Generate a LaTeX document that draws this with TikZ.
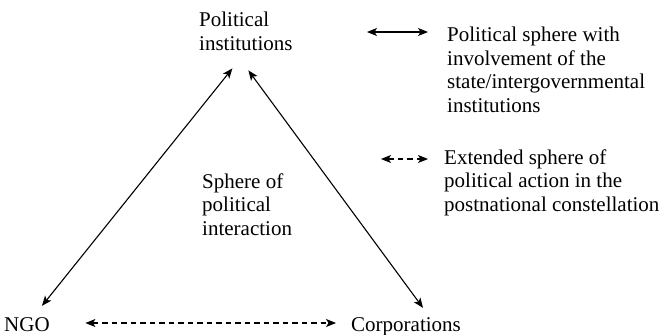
\documentclass[tikz,border=0pt]{standalone}
\usepackage{fontspec}
\setmainfont{Liberation Serif}
\usetikzlibrary{arrows.meta}

\begin{document}
\begin{tikzpicture}[x=1pt, y=-1pt,
    every node/.style={inner sep=0pt, align=left, anchor=base west,
                       font=\fontsize{21}{23.5}\selectfont},
    link/.style={{Stealth[length=10pt, width=8pt, inset=2.5pt]}-{Stealth[length=10pt, width=8pt, inset=2.5pt]},
                 line width=1.1pt},
    extlink/.style={link, dash pattern=on 5.5pt off 4pt}]
    \useasboundingbox (0,0) rectangle (662,335);

    % the three actors (base = last line)
    \node (pol) at (199,50) {Political\\institutions};
    \node (ngo) at (4,331) {NGO};
    \node (corp) at (351,331) {Corporations};

    \node (sphere) at (202,235) {Sphere of\\political\\interaction};

    % triangle
    \draw[link] ([xshift=-13.5pt, yshift=-18pt]pol.south) -- ([xshift=15pt, yshift=11pt]ngo.north);
    \draw[link] ([xshift=2.5pt, yshift=-20pt]pol.south) -- ([xshift=17pt, yshift=9pt]corp.north);
    \draw[extlink] ([xshift=35.5pt, yshift=8pt]ngo.base east) -- ([xshift=-15pt, yshift=8pt]corp.base west);

    % legend
    \node (legpol) at (447,112) {Political sphere with\\involvement of the\\state/intergovernmental\\institutions};
    \node (legext) at (444,211) {Extended sphere of\\political action in the\\postnational constellation};
    \coordinate (polA) at (367,32);
    \coordinate (polB) at (428,32);
    \coordinate (extA) at (381,159);
    \coordinate (extB) at (428,159);
    \draw[link] (polA) -- (polB);
    \draw[extlink] (extA) -- (extB);
\end{tikzpicture}
\end{document}
